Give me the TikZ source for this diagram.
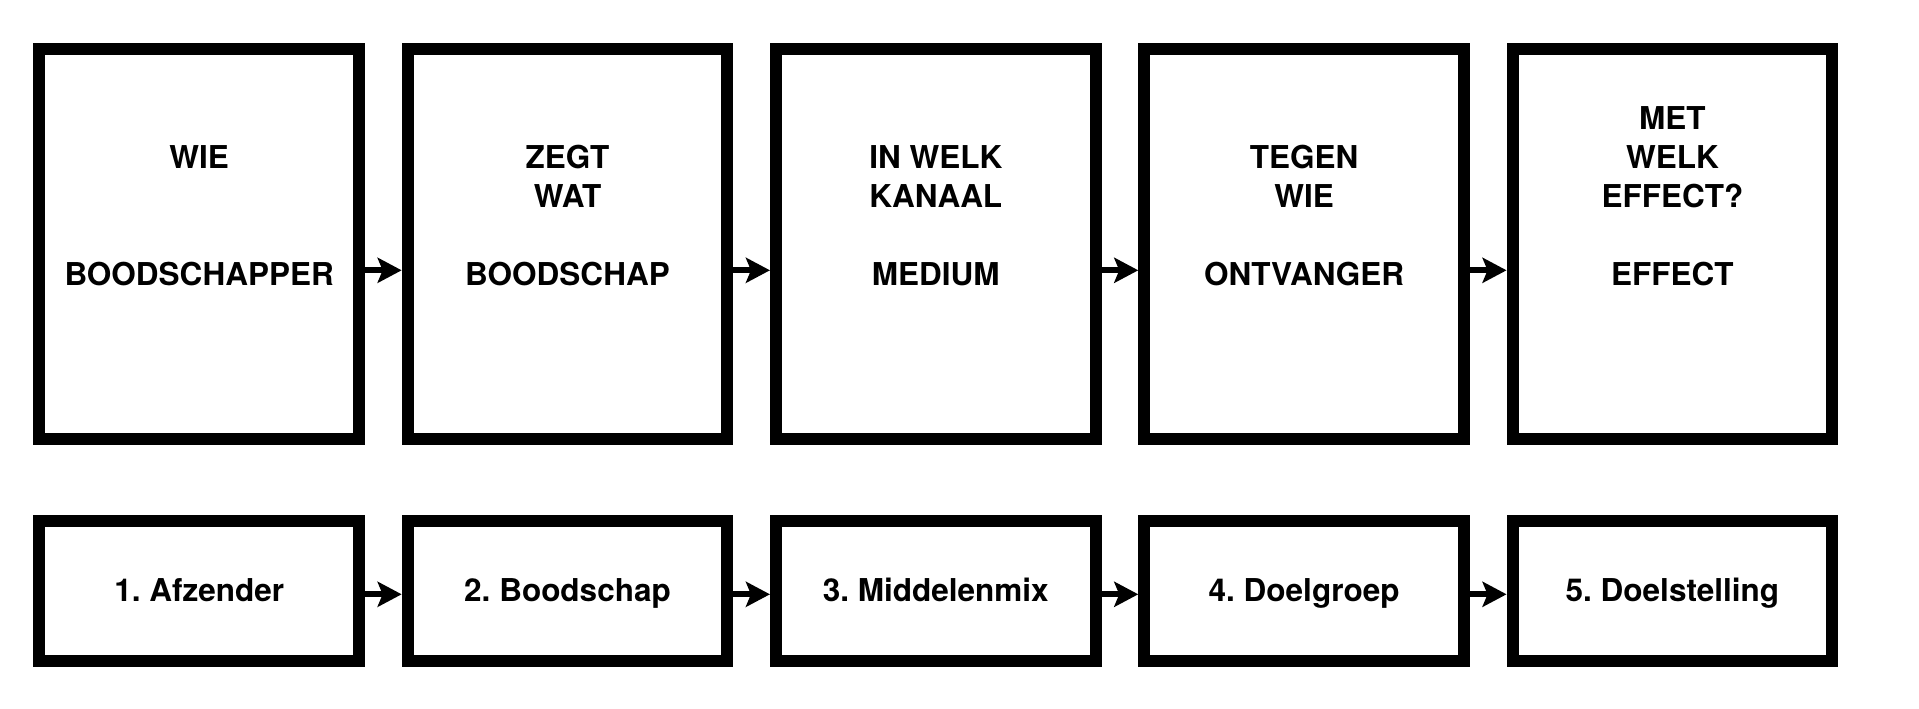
\documentclass[tikz,border=0pt]{standalone}
\usepackage{fontspec}
\setmainfont{TeX Gyre Heros}
\usetikzlibrary{arrows.meta}
\tikzset{
  bigbox/.style={draw=black, line width=12pt, inner sep=0pt, minimum width=319.7pt, minimum height=389.7pt},
  smallbox/.style={draw=black, line width=12pt, inner sep=0pt, minimum width=319.7pt, minimum height=140pt},
  lbl/.style={anchor=base, inner sep=0pt, font=\fontsize{31.5}{39}\selectfont\bfseries\frenchspacing},
  arr/.style={line width=6pt, -{Stealth[length=24pt,width=25pt,inset=5pt]}}
}
\begin{document}
\begin{tikzpicture}[x=1pt,y=-1pt]
\useasboundingbox (0,0) rectangle (1919,709);
% top row
\node[bigbox] (t1) at (199.2,244.2) {};
\node[bigbox] (t2) at (567.5,244.2) {};
\node[bigbox] (t3) at (935.8,244.2) {};
\node[bigbox] (t4) at (1304.1,244.2) {};
\node[bigbox] (t5) at (1672.4,244.2) {};
% bottom row
\node[smallbox] (s1) at (199.2,591.3) {};
\node[smallbox] (s2) at (567.5,591.3) {};
\node[smallbox] (s3) at (935.8,591.3) {};
\node[smallbox] (s4) at (1304.1,591.3) {};
\node[smallbox] (s5) at (1672.4,591.3) {};
% top labels
\node[lbl] (l1a) at (199.2,168.5) {WIE};
\node[lbl] (l1b) at (199.2,285.7) {BOODSCHAPPER};
\node[lbl] (l2a) at (567.5,168.5) {ZEGT};
\node[lbl] (l2b) at (567.5,207.5) {WAT};
\node[lbl] (l2c) at (567.5,285.7) {BOODSCHAP};
\node[lbl] (l3a) at (935.8,168.5) {IN WELK};
\node[lbl] (l3b) at (935.8,207.5) {KANAAL};
\node[lbl] (l3c) at (935.8,285.7) {MEDIUM};
\node[lbl] (l4a) at (1304.1,168.5) {TEGEN};
\node[lbl] (l4b) at (1304.1,207.5) {WIE};
\node[lbl] (l4c) at (1304.1,285.7) {ONTVANGER};
\node[lbl] (l5a) at (1672.4,129.5) {MET};
\node[lbl] (l5b) at (1672.4,168.5) {WELK};
\node[lbl] (l5c) at (1672.4,207.5) {EFFECT?};
\node[lbl] (l5d) at (1672.4,285.7) {EFFECT};
% bottom labels
\node[lbl] (m1) at (199.2,601.7) {1. Afzender};
\node[lbl] (m2) at (567.5,601.7) {2. Boodschap};
\node[lbl] (m3) at (935.8,601.7) {3. Middelenmix};
\node[lbl] (m4) at (1304.1,601.7) {4. Doelgroep};
\node[lbl] (m5) at (1672.4,601.7) {5. Doelstelling};
% arrow heights
\coordinate (ya) at (0,270.3);
\coordinate (yb) at (0,594.3);
\draw[arr] (t1.east |- ya) -- (t2.west |- ya);
\draw[arr] (t2.east |- ya) -- (t3.west |- ya);
\draw[arr] (t3.east |- ya) -- (t4.west |- ya);
\draw[arr] (t4.east |- ya) -- (t5.west |- ya);
\draw[arr] (s1.east |- yb) -- (s2.west |- yb);
\draw[arr] (s2.east |- yb) -- (s3.west |- yb);
\draw[arr] (s3.east |- yb) -- (s4.west |- yb);
\draw[arr] (s4.east |- yb) -- (s5.west |- yb);
\end{tikzpicture}
\end{document}
